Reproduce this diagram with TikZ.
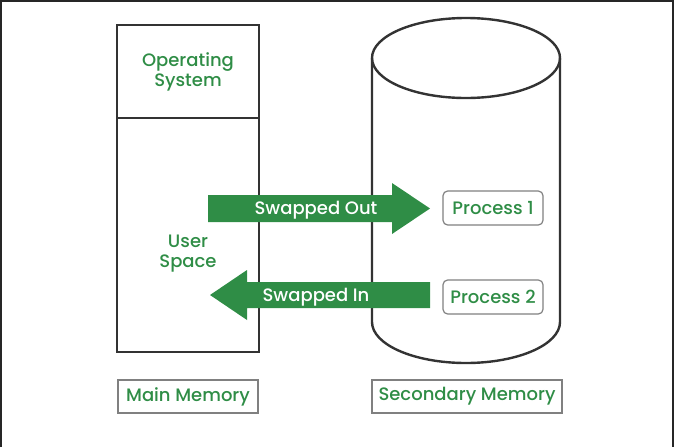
\documentclass[tikz,border=0pt]{standalone}
\usepackage{fontspec}
\setmainfont{Poppins}[UprightFont=*-Medium]
\definecolor{ggreen}{HTML}{2F8D46}
\definecolor{linegray}{HTML}{333333}
\begin{document}
\begin{tikzpicture}[
		x=0.75pt, y=-0.75pt,
		every node/.style={font=\fontsize{13.5}{15}\selectfont, text=ggreen, align=center},
		wall/.style={draw=linegray, line width=2.2pt},
		cyl/.style={draw=linegray, line width=1.8pt},
		tag/.style={draw=gray, line width=0.9pt, minimum height=24.75pt, inner sep=0pt},
		proc/.style={tag, rounded corners=3.5pt, minimum width=75pt, minimum height=25.5pt},
		swap/.style={fill=ggreen, draw=none},
		plain/.style={yshift=-1.5pt},
		swaptext/.style={plain, text=white}
	]
  \useasboundingbox (0,0) rectangle (674,447);
  \draw [draw=black!85, line width=1.5pt] (1,447) -- (1,0.5) -- (673,0.5) -- (673,447);
  \draw [wall] (117,25) rectangle (259,352);
  \draw [wall] (117,118) -- (259,118);
  \draw [cyl] (372,58) -- (372,322) arc [start angle=180, end angle=0, x radius=94, y radius=41] -- (560,58);
  \draw [cyl] (466,58) ellipse [x radius=94, y radius=40];
  \node (os) [plain] at (188,70) {Operating\\System};
  \node (user) [plain] at (188,252) {User\\Space};
  \node (p1) [proc] at (493,208) {Process 1};
  \node (p2) [proc] at (493,297) {Process 2};
  \node (mainmem) [tag, minimum width=105pt] at (188,396.5) {Main Memory};
  \node (secmem) [tag, minimum width=142.5pt] at (467,396.5) {Secondary Memory};
  \fill [swap] (208,195) -- (392,195) -- (392,183) -- (430,208.5) -- (392,234) -- (392,222) -- (208,222) -- cycle;
  \fill [swap] (430,282) -- (247,282) -- (247,270) -- (210,295) -- (247,320) -- (247,308) -- (430,308) -- cycle;
  \node (out) [swaptext] at (316,208.5) {Swapped Out};
  \node (in) [swaptext] at (316,295) {Swapped In};
\end{tikzpicture}
\end{document}
